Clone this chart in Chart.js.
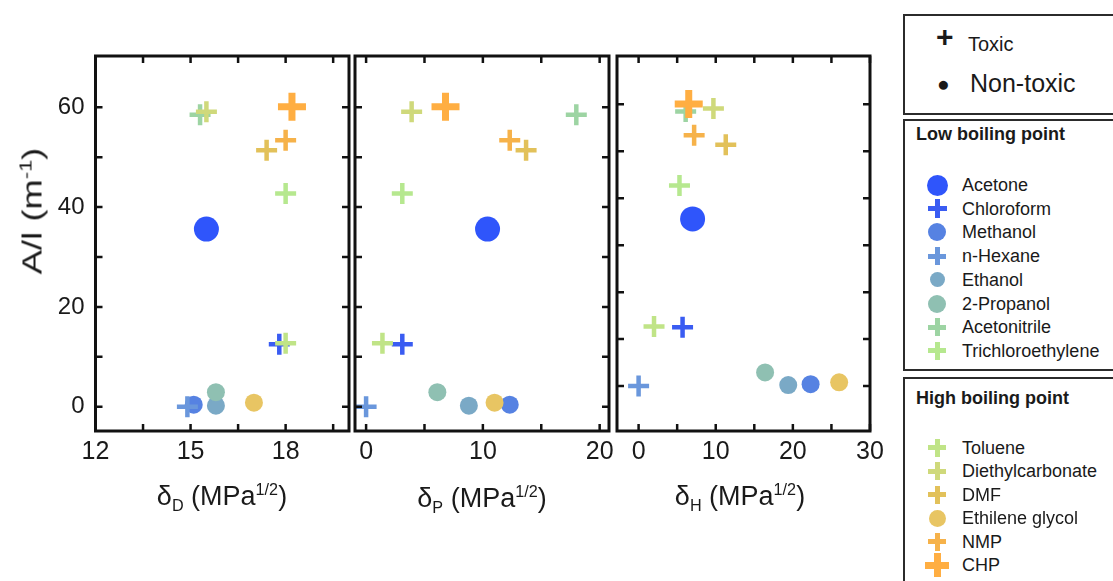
<!DOCTYPE html>
<html>
<head>
<meta charset="utf-8">
<script src="https://cdn.jsdelivr.net/npm/chart.js@4.4.0/dist/chart.umd.min.js"></script>
<style>
    body {
        margin: 0;
        width: 1113px;
        height: 581px;
        position: relative;
        overflow: hidden;
        background: #fff;
        font-family: "Liberation Sans", Arial, sans-serif;
        color: #1a1a1a;
    }
    canvas.panel { position: absolute; left: 0; top: 0; }
    .axis-title {
        position: absolute;
        font-size: 27px;
        line-height: 30px;
        white-space: nowrap;
        transform: translateX(-50%);
    }
    .axis-title sub { font-size: 60%; position: relative; top: 0.4em; vertical-align: baseline; }
    .axis-title sup { font-size: 60%; position: relative; top: -0.6em; vertical-align: baseline; }
    #ytitle { transform: translate(-50%, -50%) rotate(-90deg) scaleX(1.35); font-size: 27px; }
    .box {
        position: absolute;
        left: 903px;
        width: 240px;
        border: 2px solid #2b2b2b;
        box-sizing: border-box;
    }
    .txt { position: absolute; white-space: nowrap; }
    .lg-title { font-weight: bold; font-size: 18px; }
    .lg-item { font-size: 18px; line-height: 20px; }
    .mk { position: absolute; }
    .mk div { position: absolute; }
</style>
</head>
<body>
<canvas id="pD" class="panel" width="900" height="581"></canvas>
<canvas id="pP" class="panel" width="900" height="581"></canvas>
<canvas id="pH" class="panel" width="900" height="581"></canvas>

<div id="ytitle" class="axis-title" style="left:34px; top:211px;">A/l (m<sup>-1</sup>)</div>
<div class="axis-title" style="left:222px; top:481px;">&delta;<sub>D</sub> (MPa<sup>1/2</sup>)</div>
<div class="axis-title" style="left:482px; top:483px;">&delta;<sub>P</sub> (MPa<sup>1/2</sup>)</div>
<div class="axis-title" style="left:740px; top:481px;">&delta;<sub>H</sub> (MPa<sup>1/2</sup>)</div>

<div class="box" style="top:14px; height:101px;"></div>
<div class="box" style="top:119px; height:252px;"></div>
<div class="box" style="top:377px; height:230px;"></div>
<div id="legend"></div>

<script>
// solvents, in legend order
const SOLVENTS = ['Acetone', 'Chloroform', 'Methanol', 'n-Hexane', 'Ethanol', '2-Propanol',
    'Acetonitrile', 'Trichloroethylene', 'Toluene', 'Diethylcarbonate', 'DMF',
    'Ethilene glycol', 'NMP', 'CHP'];
const LOW_BP = ['Acetone', 'Chloroform', 'Methanol', 'n-Hexane', 'Ethanol', '2-Propanol',
    'Acetonitrile', 'Trichloroethylene'];
const HIGH_BP = ['Toluene', 'Diethylcarbonate', 'DMF', 'Ethilene glycol', 'NMP', 'CHP'];
const TOXIC = [false, true, false, true, false, false, true, true, true, true, true, false, true, true];

// Hansen parameters (MPa^1/2) and A/l (m^-1)
const DELTA_D = [15.5, 17.8, 15.1, 14.9, 15.8, 15.8, 15.3, 18.0, 18.0, 15.5, 17.4, 17.0, 18.0, 18.2];
const DELTA_P = [10.4, 3.1, 12.3, 0.0, 8.8, 6.1, 18.0, 3.1, 1.4, 3.9, 13.7, 11.0, 12.3, 6.8];
const DELTA_H = [7.0, 5.7, 22.3, 0.0, 19.4, 16.4, 6.1, 5.3, 2.0, 9.7, 11.3, 26.0, 7.2, 6.5];
const A_OVER_L = [35.6, 12.5, 0.4, 0.0, 0.2, 2.9, 58.5, 42.7, 12.7, 59.1, 51.4, 0.8, 53.4, 60.1];

// tick values and labels
const D_TICKS = [12, 13.5, 15, 16.5, 18, 19.5];
const D_LABELS = [12, 15, 18];
const P_TICKS = [0, 5, 10, 15, 20];
const P_LABELS = [0, 10, 20];
const H_TICKS = [0, 5, 10, 15, 20, 25, 30];
const H_LABELS = [0, 10, 20, 30];
const Y_TICKS = [0, 10, 20, 30, 40, 50, 60];
const Y_LABELS = [0, 20, 40, 60];

// marker styles: colour, point radius, cross line width, legend size
const STYLE = {
    'Acetone':           { color: '#2f55fb', r: 12.5, w: 0, lg: 21 },
    'Chloroform':        { color: '#3a5cf2', r: 10.5, w: 4.5, lg: 19 },
    'Methanol':          { color: '#5682e2', r: 9, w: 0, lg: 18 },
    'n-Hexane':          { color: '#6a97dc', r: 10.5, w: 4.5, lg: 18 },
    'Ethanol':           { color: '#7aa9c6', r: 9, w: 0, lg: 15 },
    '2-Propanol':        { color: '#8fc0b2', r: 9, w: 0, lg: 18 },
    'Acetonitrile':      { color: '#9dd4a3', r: 10.5, w: 4.5, lg: 18 },
    'Trichloroethylene': { color: '#b6e88f', r: 10.5, w: 4.5, lg: 18 },
    'Toluene':           { color: '#c0e487', r: 10.5, w: 4.5, lg: 18 },
    'Diethylcarbonate':  { color: '#cfd97b', r: 10.5, w: 4.5, lg: 18 },
    'DMF':               { color: '#e2c15a', r: 10.5, w: 4.5, lg: 18 },
    'Ethilene glycol':   { color: '#e8c563', r: 9, w: 0, lg: 17 },
    'NMP':               { color: '#f6b24a', r: 10.5, w: 4.5, lg: 18 },
    'CHP':               { color: '#ffae42', r: 14, w: 7, lg: 24 }
};

// inward ticks on all four sides plus the box frame
const framePlugin = {
    id: 'frame',
    afterDraw(chart, args, opts) {
        const { ctx, chartArea: a, scales: { x, y } } = chart;
        ctx.save();
        ctx.strokeStyle = '#111';
        ctx.lineWidth = 2.5;
        ctx.beginPath();
        opts.xTicks.forEach(v => {
            const px = x.getPixelForValue(v);
            ctx.moveTo(px, a.bottom); ctx.lineTo(px, a.bottom - 7);
            ctx.moveTo(px, a.top); ctx.lineTo(px, a.top + 7);
        });
        opts.yTicks.forEach(v => {
            const py = y.getPixelForValue(v);
            ctx.moveTo(a.left, py); ctx.lineTo(a.left + 7, py);
            ctx.moveTo(a.right, py); ctx.lineTo(a.right - 7, py);
        });
        ctx.stroke();
        ctx.lineWidth = 3;
        ctx.strokeRect(a.left, a.top, a.right - a.left, a.bottom - a.top);
        ctx.restore();
    }
};

function makeDatasets(xs, ys) {
    return SOLVENTS.map((name, i) => {
        const s = STYLE[name];
        return {
            label: name,
            data: [{ x: xs[i], y: ys[i] }],
            pointStyle: TOXIC[i] ? 'cross' : 'circle',
            pointRadius: s.r,
            pointBorderWidth: TOXIC[i] ? s.w : 0,
            backgroundColor: s.color,
            borderColor: s.color,
            clip: false,
            order: -i
        };
    });
}

function createPanel(id, xs, cfg) {
    const W = 900, H = 581;
    const showY = cfg.yLabels !== null;
    const yWidth = showY ? cfg.area.left : 0;
    return new Chart(document.getElementById(id), {
        type: 'scatter',
        data: { datasets: makeDatasets(xs, A_OVER_L) },
        options: {
            responsive: false,
            animation: false,
            layout: {
                padding: {
                    left: cfg.area.left - yWidth,
                    top: cfg.area.top,
                    right: W - cfg.area.right,
                    bottom: H - cfg.area.bottom - 44
                }
            },
            plugins: {
                legend: { display: false },
                tooltip: { enabled: false },
                frame: { xTicks: cfg.xTicks, yTicks: Y_TICKS }
            },
            scales: {
                x: {
                    type: 'linear',
                    min: cfg.xMin,
                    max: cfg.xMax,
                    grid: { display: false, drawTicks: false },
                    border: { display: false },
                    afterBuildTicks: scale => { scale.ticks = cfg.xTicks.map(v => ({ value: v })); },
                    afterFit: scale => { scale.height = 44; },
                    ticks: {
                        autoSkip: false,
                        maxRotation: 0,
                        padding: 6,
                        color: '#1a1a1a',
                        font: { family: 'Liberation Sans', size: 25 },
                        callback: v => cfg.xLabels.includes(v) ? String(v) : ''
                    }
                },
                y: {
                    type: 'linear',
                    display: showY,
                    min: cfg.yMin,
                    max: cfg.yMax,
                    grid: { display: false, drawTicks: false },
                    border: { display: false },
                    afterBuildTicks: scale => { scale.ticks = Y_TICKS.map(v => ({ value: v })); },
                    afterFit: scale => { scale.width = yWidth; },
                    ticks: {
                        autoSkip: false,
                        padding: 11,
                        color: '#1a1a1a',
                        font: { family: 'Liberation Sans', size: 24 },
                        callback: v => (showY && cfg.yLabels.includes(v)) ? String(v) : ''
                    }
                }
            }
        },
        plugins: [framePlugin]
    });
}

createPanel('pD', DELTA_D, {
    area: { left: 95.5, top: 56, right: 349, bottom: 431 },
    xMin: 12, xMax: 20, xTicks: D_TICKS, xLabels: D_LABELS,
    yMin: -4.87, yMax: 70.28, yLabels: Y_LABELS
});
createPanel('pP', DELTA_P, {
    area: { left: 355, top: 56, right: 609, bottom: 431 },
    xMin: -0.95, xMax: 20.8, xTicks: P_TICKS, xLabels: P_LABELS,
    yMin: -4.87, yMax: 70.28, yLabels: null
});
createPanel('pH', DELTA_H, {
    area: { left: 617, top: 56, right: 870, bottom: 431 },
    xMin: -2.8, xMax: 30, xTicks: H_TICKS, xLabels: H_LABELS,
    yMin: -9.58, yMax: 70.3, yLabels: null
});

// legend (HTML)
const legend = document.getElementById('legend');

function addText(text, left, top, cls, extra) {
    const d = document.createElement('div');
    d.className = 'txt ' + (cls || '');
    d.textContent = text;
    d.style.left = left + 'px';
    d.style.top = top + 'px';
    if (extra) Object.assign(d.style, extra);
    legend.appendChild(d);
    return d;
}

function addMarker(name, cx, cy) {
    const s = STYLE[name];
    const toxic = TOXIC[SOLVENTS.indexOf(name)];
    const size = s.lg;
    const m = document.createElement('div');
    m.className = 'mk';
    m.style.left = (cx - size / 2) + 'px';
    m.style.top = (cy - size / 2) + 'px';
    m.style.width = size + 'px';
    m.style.height = size + 'px';
    if (toxic) {
        const t = name === 'CHP' ? 7 : 5;
        const h = document.createElement('div');
        Object.assign(h.style, { left: '0px', top: (size - t) / 2 + 'px', width: size + 'px', height: t + 'px', background: s.color });
        const v = document.createElement('div');
        Object.assign(v.style, { left: (size - t) / 2 + 'px', top: '0px', width: t + 'px', height: size + 'px', background: s.color });
        m.appendChild(h);
        m.appendChild(v);
    } else {
        m.style.borderRadius = '50%';
        m.style.background = s.color;
    }
    legend.appendChild(m);
}

// toxicity key
addText('+', 936, 21, '', { fontSize: '30px', lineHeight: '32px', fontWeight: 'bold' });
addText('Toxic', 968, 32, '', { fontSize: '20px', lineHeight: '24px' });
addText('\u25CF', 937, 71, '', { fontSize: '21px', lineHeight: '26px' });
addText('Non-toxic', 970, 68, '', { fontSize: '25px', lineHeight: '30px' });

addText('Low boiling point', 916, 124, 'lg-title');
LOW_BP.forEach((name, i) => {
    const cy = 185 + i * 23.7;
    addMarker(name, 937, cy);
    addText(name, 962, cy - 10, 'lg-item');
});

addText('High boiling point', 916, 388, 'lg-title');
HIGH_BP.forEach((name, i) => {
    const cy = 447.5 + i * 23.5;
    addMarker(name, 937, cy);
    addText(name, 962, cy - 10, 'lg-item');
});
</script>
</body>
</html>
